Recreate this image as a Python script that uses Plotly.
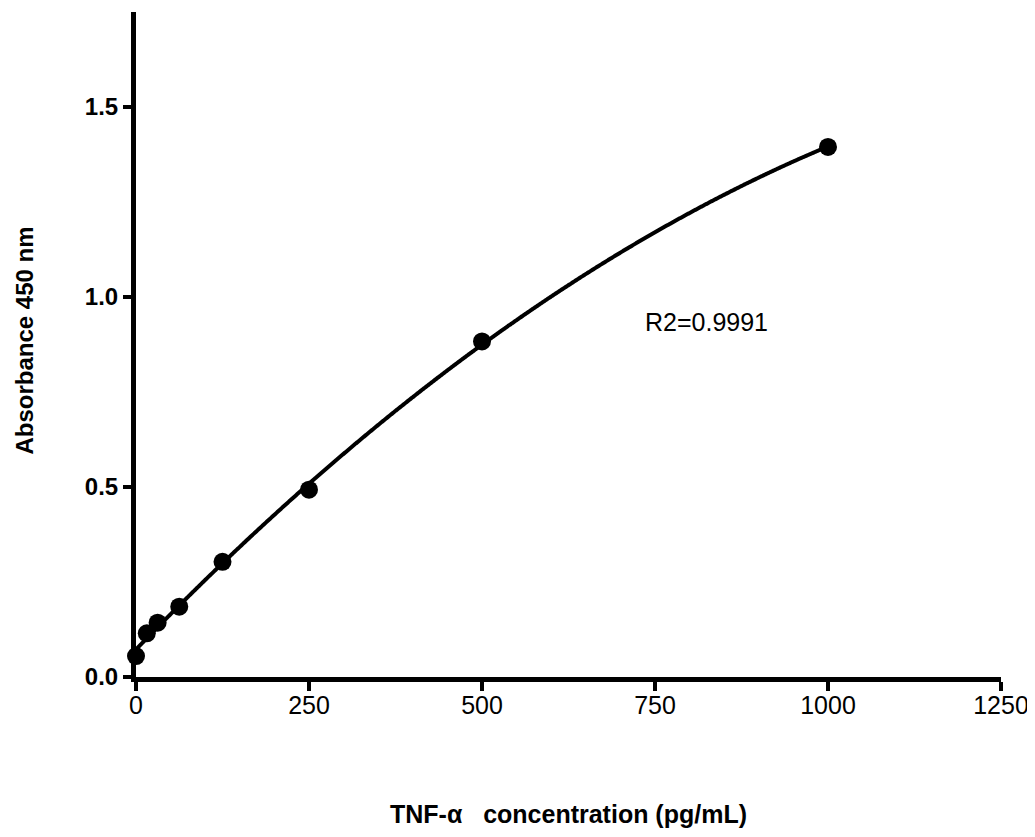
import numpy as np
import plotly.graph_objects as go

concentration = [0, 15.625, 31.25, 62.5, 125, 250, 500, 1000]
absorbance = [0.055, 0.115, 0.143, 0.185, 0.303, 0.493, 0.883, 1.395]
x_ticks = [0, 250, 500, 750, 1000, 1250]
y_ticks = [0.0, 0.5, 1.0, 1.5]
r2_label = "R2=0.9991"
x_title = "TNF-α   concentration (pg/mL)"
y_title = "Absorbance 450 nm"

# second-order fit through the standards (the drawn standard curve)
coef = np.polyfit(concentration, absorbance, 2)
fit_x = np.linspace(0, 1000, 400)
fit_y = np.polyval(coef, fit_x)

FONT = "Liberation Sans, Arial, sans-serif"

fig = go.Figure()
fig.add_trace(go.Scatter(x=fit_x, y=fit_y, mode="lines",
                         line=dict(color="black", width=4, shape="spline"),
                         hoverinfo="skip", showlegend=False, cliponaxis=False))
fig.add_trace(go.Scatter(x=concentration, y=absorbance, mode="markers",
                         marker=dict(color="black", size=18), showlegend=False,
                         cliponaxis=False))

fig.add_annotation(x=733, y=0.933, text=r2_label, showarrow=False,
                   xanchor="left", yanchor="middle",
                   font=dict(family=FONT, size=25, color="black"))

# axis titles
fig.add_annotation(x=0.5, y=0, xref="paper", yref="paper", text="<b>%s</b>" % x_title,
                   showarrow=False, xanchor="center", yanchor="middle", yshift=-137,
                   font=dict(family=FONT, size=25, color="black"))
fig.add_annotation(x=0, y=0.5, xref="paper", yref="paper", text="<b>%s</b>" % y_title,
                   showarrow=False, xanchor="center", yanchor="middle", xshift=-112,
                   yshift=4, textangle=-90,
                   font=dict(family=FONT, size=24, color="black"))

fig.update_layout(
    width=1027, height=821,
    margin=dict(l=128, r=34, t=4, b=152),
    paper_bgcolor="white", plot_bgcolor="white",
    font=dict(family=FONT, color="black"),
    xaxis=dict(range=[0, 1250], tickvals=x_ticks, ticktext=[str(v) for v in x_ticks],
               showgrid=False, zeroline=False, showline=True, linecolor="black",
               linewidth=5, ticks="outside", ticklen=9, tickwidth=4, tickcolor="black",
               ticklabelstandoff=-7,
               tickfont=dict(family=FONT, size=25)),
    yaxis=dict(range=[0, 1.75], tickvals=y_ticks,
               ticktext=["<b>%.1f</b>" % v for v in y_ticks],
               showgrid=False, zeroline=False, showline=True, linecolor="black",
               linewidth=5, ticks="outside", ticklen=8, tickwidth=4, tickcolor="black",
               tickfont=dict(family=FONT, size=24)),
)

fig.write_html("out.html")
